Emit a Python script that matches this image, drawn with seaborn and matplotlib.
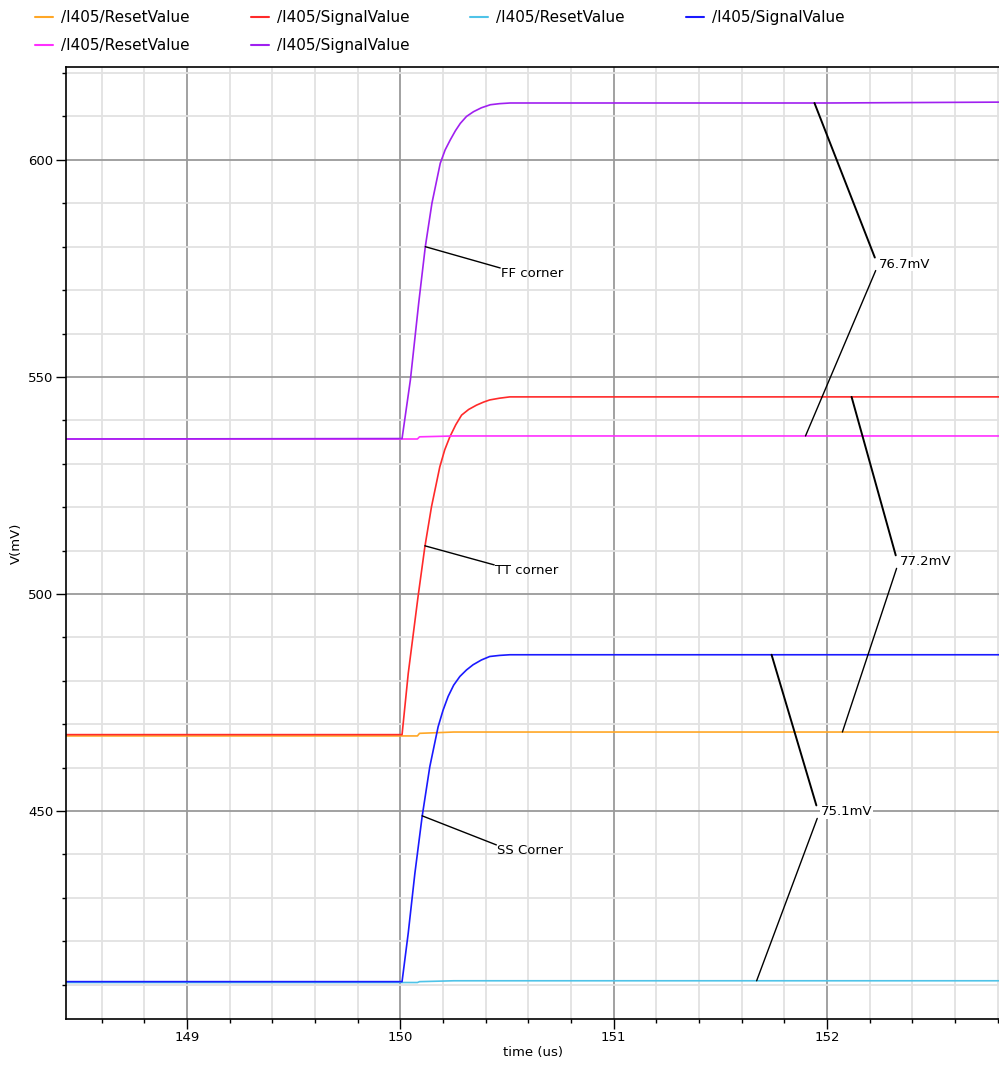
import numpy as np
import pandas as pd
import seaborn as sns
import matplotlib.pyplot as plt
from matplotlib.ticker import MultipleLocator

# ---- data (time in us, voltage in mV) ----
t_ff = [148.43, 150.008, 150.047, 150.086, 150.117, 150.148, 150.187, 150.210,
        150.234, 150.258, 150.281, 150.310, 150.343, 150.380, 150.422, 150.465,
        150.515, 151.0, 152.0, 152.81]
sig_ff = [535.7, 535.8, 549.3, 567.0, 580.0, 590.0, 599.2, 602.3,
          604.6, 606.7, 608.4, 610.0, 611.1, 612.0, 612.7, 612.95,
          613.1, 613.1, 613.1, 613.3]

t_tt = [148.43, 150.008, 150.037, 150.083, 150.115, 150.146, 150.185, 150.208,
        150.232, 150.260, 150.287, 150.320, 150.357, 150.390, 150.419, 150.465,
        150.513, 151.0, 152.0, 152.81]
sig_tt = [467.6, 467.6, 481.7, 499.4, 510.9, 520.1, 529.3, 533.2,
          536.2, 539.0, 541.2, 542.5, 543.5, 544.2, 544.7, 545.1,
          545.4, 545.4, 545.4, 545.4]

t_ss = [148.43, 150.008, 150.037, 150.068, 150.102, 150.138, 150.177, 150.200,
        150.224, 150.250, 150.279, 150.310, 150.341, 150.380, 150.419, 150.465,
        150.513, 151.0, 152.0, 152.81]
sig_ss = [410.7, 410.7, 421.9, 435.6, 448.7, 460.2, 469.4, 473.2,
          476.4, 479.0, 481.0, 482.5, 483.7, 484.8, 485.6, 485.85,
          486.0, 486.0, 486.0, 486.0]

t_reset = [148.43, 150.08, 150.09, 150.25, 152.81]
rst_ff = [535.7, 535.7, 536.2, 536.4, 536.4]
rst_tt = [467.3, 467.3, 467.9, 468.2, 468.2]
rst_ss = [410.5, 410.5, 410.7, 410.9, 410.9]

corner_labels = ["FF corner", "TT corner", "SS Corner"]
delta_labels = ["76.7mV", "77.2mV", "75.1mV"]

sns.set_theme(style="white")
plt.rcParams["font.family"] = ["DejaVu Sans"]
plt.rcParams["text.color"] = "black"
plt.rcParams["axes.labelcolor"] = "black"
plt.rcParams["xtick.color"] = "black"
plt.rcParams["ytick.color"] = "black"

fig = plt.figure(figsize=(9.99, 10.68), dpi=100)
ax = fig.add_axes([0.0661, 0.0459, 0.9339, 0.8914])

series = [
    ("/I405/ResetValue", t_reset, rst_tt, "#ffa726"),
    ("/I405/SignalValue", t_tt, sig_tt, "#ff2a2a"),
    ("/I405/ResetValue", t_reset, rst_ss, "#4fc3e8"),
    ("/I405/SignalValue", t_ss, sig_ss, "#1a1aff"),
    ("/I405/ResetValue", t_reset, rst_ff, "#ff30ff"),
    ("/I405/SignalValue", t_ff, sig_ff, "#a020f0"),
]
handles = []
for name, t, v, col in series:
    df = pd.DataFrame({"t": t, "v": v})
    sns.lineplot(data=df, x="t", y="v", ax=ax, color=col, linewidth=1.2,
                 estimator=None, sort=False, legend=False)
    handles.append(plt.Line2D([], [], color=col, linewidth=1.5, label=name))

# corner call-outs
corner_pts = [((150.117, 580.0), (150.468, 575.1)),
              ((150.115, 511.1), (150.440, 506.7)),
              ((150.102, 448.9), (150.450, 442.2))]
for (p0, p1), lab in zip(corner_pts, corner_labels):
    ax.plot([p0[0], p1[0]], [p0[1], p1[1]], color="black", linewidth=1)
    ax.text(p1[0] + 0.005, p1[1] - 1.2, lab, fontsize=9.5, va="center", ha="left")

# delta call-outs: upper curve point, lower curve point, label point
delta_pts = [((151.941, 613.1), (151.899, 536.4), (152.224, 576.0)),
             ((152.115, 545.4), (152.072, 468.2), (152.322, 507.4)),
             ((151.740, 486.0), (151.670, 410.9), (151.950, 449.8))]
for (up, lo, lp), lab in zip(delta_pts, delta_labels):
    ax.plot([up[0], lp[0]], [up[1], lp[1] + 1.5], color="black", linewidth=1.4)
    ax.plot([lo[0], lp[0] + 0.004], [lo[1], lp[1] - 1.5], color="black", linewidth=1)
    ax.text(lp[0] + 0.02, lp[1], lab, fontsize=9.5, va="center", ha="left",
            bbox=dict(facecolor="white", edgecolor="none", pad=0.5))

ax.set_xlim(148.433, 152.806)
ax.set_ylim(402.1, 621.4)
ax.xaxis.set_major_locator(MultipleLocator(1))
ax.xaxis.set_minor_locator(MultipleLocator(0.2))
ax.yaxis.set_major_locator(MultipleLocator(50))
ax.yaxis.set_minor_locator(MultipleLocator(10))
ax.grid(which="major", color="#9a9a9a", linewidth=1.3)
ax.grid(which="minor", color="#e2e2e2", linewidth=1.3)
ax.set_axisbelow(True)

for side in ["left", "bottom", "top"]:
    ax.spines[side].set_color("black")
    ax.spines[side].set_linewidth(1.2)
ax.spines["right"].set_visible(False)
ax.tick_params(which="major", direction="out", length=7, width=1, color="black",
               labelsize=9.5, pad=2, left=True, bottom=True)
ax.tick_params(which="minor", direction="out", length=3, width=1, color="black",
               left=True, bottom=True)

ax.set_xlabel("time (us)", fontsize=9.5, labelpad=1)
ax.set_ylabel("V(mV)", fontsize=9.5, labelpad=4)

order = [0, 4, 1, 5, 2, 3]
fig.legend(handles=[handles[i] for i in order], loc="upper left",
           bbox_to_anchor=(0.035, 0.9905), ncol=4, frameon=False, fontsize=11,
           handlelength=1.18, handletextpad=0.52, columnspacing=4.0,
           labelspacing=0.87, borderpad=0, borderaxespad=0)

plt.savefig("out.png", dpi=100)
